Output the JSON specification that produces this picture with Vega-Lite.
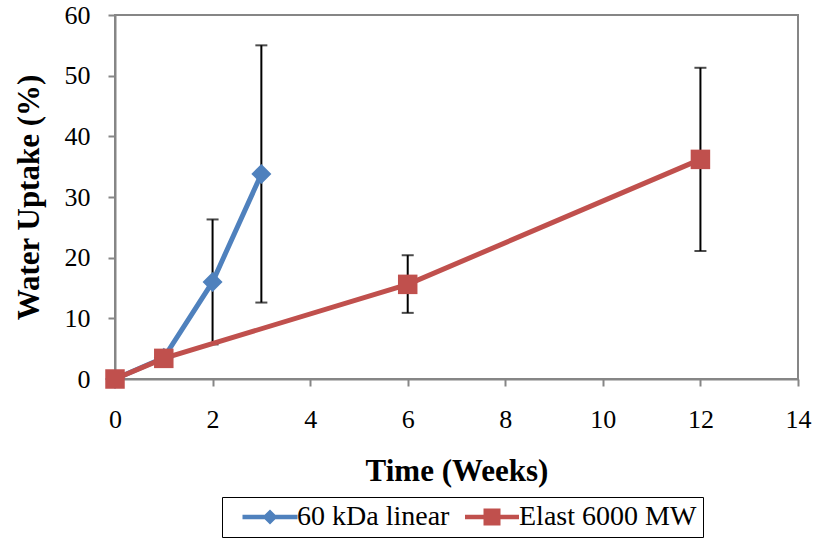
{
  "$schema": "https://vega.github.io/schema/vega-lite/v6.json",
  "width": 683,
  "height": 364,
  "autosize": {"type": "none"},
  "padding": {"left": 115, "top": 15, "right": 18, "bottom": 160},
  "background": "white",
  "config": {
    "font": "Liberation Serif",
    "view": {"stroke": "#868686", "strokeWidth": 2},
    "axis": {
      "grid": false,
      "domainColor": "#868686",
      "domainWidth": 2,
      "tickColor": "#868686",
      "tickWidth": 2,
      "tickSize": 7,
      "labelFlush": false,
      "labelOverlap": false,
      "labelFont": "Liberation Serif",
      "labelFontSize": 26,
      "labelColor": "black",
      "titleFont": "Liberation Serif",
      "titleFontSize": 31,
      "titleFontWeight": "bold",
      "titleColor": "black"
    },
    "legend": {
      "title": null,
      "orient": "none",
      "direction": "horizontal",
      "legendX": 107,
      "legendY": 482,
      "strokeColor": "black",
      "padding": 6,
      "labelFont": "Liberation Serif",
      "labelFontSize": 28,
      "labelColor": "black",
      "labelLimit": 400,
      "labelOffset": 13,
      "symbolOffset": 28,
      "columnPadding": 0,
      "symbolSize": 400,
      "symbolStrokeWidth": 0
    }
  },
  "data": {
    "values": [
      {"series": "60 kDa linear", "week": 0, "uptake": 0},
      {"series": "60 kDa linear", "week": 1, "uptake": 3.5},
      {"series": "60 kDa linear", "week": 2, "uptake": 16.0, "lo": 5.7, "hi": 26.3},
      {"series": "60 kDa linear", "week": 3, "uptake": 33.8, "lo": 12.6, "hi": 55.0},
      {"series": "Elast 6000 MW", "week": 0, "uptake": 0},
      {"series": "Elast 6000 MW", "week": 1, "uptake": 3.4},
      {"series": "Elast 6000 MW", "week": 6, "uptake": 15.6, "lo": 10.9, "hi": 20.4},
      {"series": "Elast 6000 MW", "week": 12, "uptake": 36.2, "lo": 21.1, "hi": 51.3}
    ]
  },
  "encoding": {
    "x": {
      "field": "week",
      "type": "quantitative",
      "scale": {"domain": [0, 14], "nice": false},
      "axis": {
        "values": [0, 2, 4, 6, 8, 10, 12, 14],
        "title": "Time (Weeks)",
        "labelPadding": 20,
        "titlePadding": 24,
        "encode": {"ticks": {"update": {"y": {"signal": "-7"}}}}
      }
    },
    "y": {
      "field": "uptake",
      "type": "quantitative",
      "scale": {"domain": [0, 60], "nice": false},
      "axis": {
        "values": [0, 10, 20, 30, 40, 50, 60],
        "title": "Water Uptake (%)",
        "labelPadding": 18,
        "titlePadding": 19
      }
    }
  },
  "layer": [
    {
      "transform": [{"filter": "datum.hi != null"}],
      "mark": {"type": "rule", "color": "black", "strokeWidth": 2},
      "encoding": {"y": {"field": "lo", "type": "quantitative"}, "y2": {"field": "hi"}}
    },
    {
      "transform": [{"filter": "datum.hi != null"}],
      "mark": {"type": "tick", "orient": "horizontal", "color": "black", "size": 12, "thickness": 2},
      "encoding": {"y": {"field": "hi", "type": "quantitative"}}
    },
    {
      "transform": [{"filter": "datum.hi != null"}],
      "mark": {"type": "tick", "orient": "horizontal", "color": "black", "size": 12, "thickness": 2},
      "encoding": {"y": {"field": "lo", "type": "quantitative"}}
    },
    {
      "mark": {"type": "line", "strokeWidth": 5},
      "encoding": {
        "color": {
          "field": "series",
          "type": "nominal",
          "scale": {"domain": ["60 kDa linear", "Elast 6000 MW"], "range": ["#4F81BD", "#C0504D"]},
          "legend": {}
        }
      }
    },
    {
      "transform": [{"filter": "false"}],
      "mark": {"type": "point", "filled": true, "opacity": 1},
      "encoding": {
        "color": {"field": "series", "type": "nominal", "legend": {}},
        "shape": {
          "field": "series",
          "type": "nominal",
          "scale": {
            "domain": ["60 kDa linear", "Elast 6000 MW"],
            "range": [
              "M-2.75,-0.22L-0.53,-0.22L0,-0.75L0.53,-0.22L2.75,-0.22L2.75,0.22L0.53,0.22L0,0.75L-0.53,0.22L-2.75,0.22Z",
              "M-2.7,-0.22L-0.85,-0.22L-0.85,-0.85L0.85,-0.85L0.85,-0.22L2.7,-0.22L2.7,0.22L0.85,0.22L0.85,0.85L-0.85,0.85L-0.85,0.22L-2.7,0.22Z"
            ]
          },
          "legend": {}
        }
      }
    },
    {
      "transform": [{"filter": "datum.series === '60 kDa linear'"}],
      "mark": {"type": "point", "filled": true, "opacity": 1, "shape": "diamond", "color": "#4F81BD", "size": 400},
      "encoding": {}
    },
    {
      "transform": [{"filter": "datum.series === 'Elast 6000 MW'"}],
      "mark": {"type": "point", "filled": true, "opacity": 1, "shape": "square", "color": "#C0504D", "size": 380},
      "encoding": {}
    }
  ]
}
